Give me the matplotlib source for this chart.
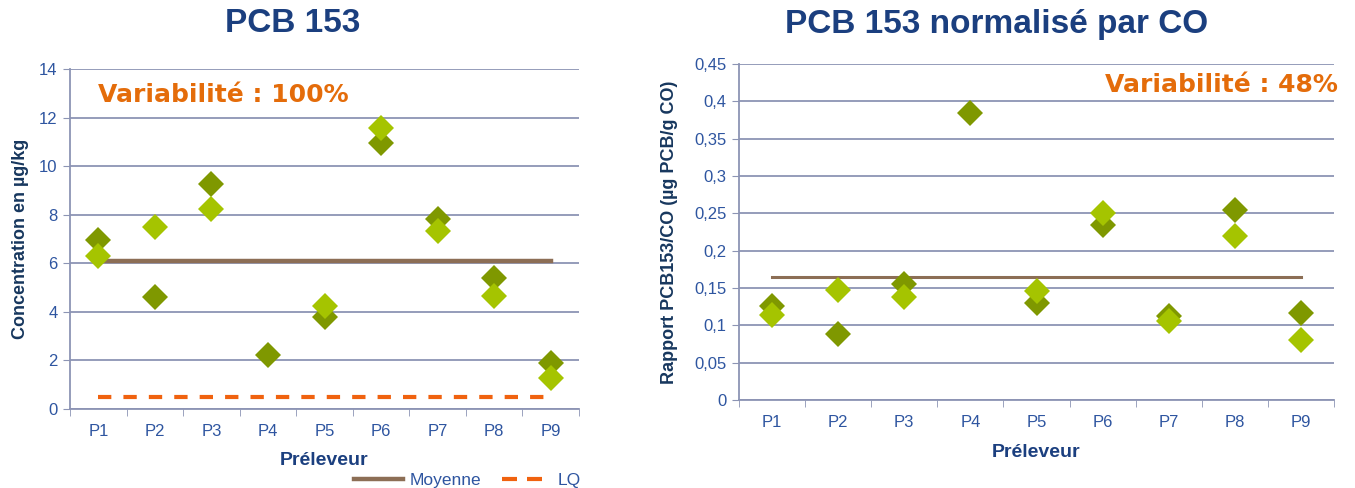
import numpy as np
import matplotlib.pyplot as plt
from matplotlib.lines import Line2D

# Data
preleveurs = ["P1", "P2", "P3", "P4", "P5", "P6", "P7", "P8", "P9"]

# PCB 153 concentration (µg/kg), two replicates per sampler
conc_dark = [6.95, 4.6, 9.25, 2.22, 3.8, 10.94, 7.81, 5.41, 1.88]
conc_light = [6.3, 7.5, 8.22, np.nan, 4.24, 11.58, 7.33, 4.66, 1.26]
conc_moyenne = 6.1
conc_lq = 0.48

# PCB 153 normalised by organic carbon
norm_dark = [0.126, 0.089, 0.155, 0.385, 0.1295, 0.235, 0.113, 0.255, 0.116]
norm_light = [0.114, 0.148, 0.1375, np.nan, 0.146, 0.251, 0.106, 0.2196, 0.080]
norm_moyenne = 0.165

var_left = "Variabilité : 100%"
var_right = "Variabilité : 48%"

# Colours
dark_green = "#7F9800"
light_green = "#A5C400"
brown = "#8C6E55"
orange_lq = "#F0620F"
orange_txt = "#E46C0A"
navy = "#1B3F7F"
label_navy = "#17375E"
tick_blue = "#2E55A0"
grid_col = "#8C94B4"

plt.rcParams["font.family"] = ["Liberation Sans", "DejaVu Sans"]

fig = plt.figure(figsize=(13.55, 4.88), dpi=100)
ax1 = fig.add_axes([0.0517, 0.1619, 0.3756, 0.6967])
ax2 = fig.add_axes([0.5454, 0.1803, 0.4391, 0.6885])

x = np.arange(1, len(preleveurs) + 1)


def style_axes(ax, ymax, ystep, fmt):
    ax.set_xlim(0.5, len(preleveurs) + 0.5)
    ax.set_ylim(0, ymax)
    yt = np.arange(0, ymax + ystep / 2, ystep)
    ax.set_yticks(yt)
    ax.set_yticklabels([fmt(v) for v in yt])
    ax.set_xticks(x)
    ax.set_xticklabels(preleveurs)
    ax.set_xticks(np.arange(0.5, len(preleveurs) + 1), minor=True)
    ax.tick_params(axis="x", which="major", length=0, pad=11,
                   labelsize=12, colors=tick_blue)
    ax.tick_params(axis="x", which="minor", length=5, color=grid_col)
    ax.tick_params(axis="y", length=5, color=grid_col, labelsize=12,
                   labelcolor=tick_blue, pad=4)
    ax.grid(axis="y", color=grid_col, linewidth=1.3)
    ax.set_axisbelow(True)
    for s in ["top", "right"]:
        ax.spines[s].set_visible(False)
    for s in ["left", "bottom"]:
        ax.spines[s].set_color(grid_col)
        ax.spines[s].set_linewidth(1.3)


# Left chart: raw concentration
style_axes(ax1, 14, 2, lambda v: f"{v:.0f}")
ax1.plot([x[0], x[-1]], [conc_moyenne, conc_moyenne], color=brown, lw=3.2,
         zorder=2)
ax1.plot([x[0], x[-1]], [conc_lq, conc_lq], color=orange_lq, lw=3,
         dashes=(3.2, 2.9), zorder=2)
ax1.plot(x, conc_dark, "D", color=dark_green, ms=13.5, mew=0, zorder=3)
ax1.plot(x, conc_light, "D", color=light_green, ms=13.5, mew=0, zorder=4)
fig.text(292.5 / 1355, 1 - 24 / 488, "PCB 153", fontsize=24,
         fontweight="bold", color=navy, ha="center", va="center")
ax1.set_ylabel("Concentration en µg/kg", fontsize=13, fontweight="bold",
               color=label_navy)
ax1.yaxis.set_label_coords(-0.080, 0.5)
ax1.set_xlabel("Préleveur", fontsize=14, fontweight="bold", color=navy)
ax1.xaxis.set_label_coords(0.5, -0.126)
ax1.text(0.055, 0.924, var_left, transform=ax1.transAxes, fontsize=18,
         fontweight="bold", color=orange_txt, family=["DejaVu Sans"],
         va="center", ha="left")

handles = [Line2D([], [], color=brown, lw=3.2),
           Line2D([], [], color=orange_lq, lw=3, dashes=(3.6, 2.4))]
fig.legend(handles, ["Moyenne", "LQ"], loc="center",
           bbox_to_anchor=(0.345, 0.016), ncol=2, frameon=False,
           fontsize=12.5, labelcolor=tick_blue, handlelength=2.8,
           handletextpad=0.4, columnspacing=1.2)

# Right chart: normalised by CO
style_axes(ax2, 0.45, 0.05,
           lambda v: "0" if v == 0 else f"{v:g}".replace(".", ","))
ax2.plot([x[0], x[-1]], [norm_moyenne, norm_moyenne], color=brown, lw=2.2,
         zorder=2)
ax2.plot(x, norm_dark, "D", color=dark_green, ms=13.5, mew=0, zorder=3)
ax2.plot(x, norm_light, "D", color=light_green, ms=13.5, mew=0, zorder=4)
fig.text(997 / 1355, 1 - 25 / 488, "PCB 153 normalisé par CO", fontsize=24,
         fontweight="bold", color=navy, ha="center", va="center")
ax2.set_ylabel("Rapport PCB153/CO (µg PCB/g CO)", fontsize=13,
               fontweight="bold", color=label_navy)
ax2.yaxis.set_label_coords(-0.1025, 0.5)
ax2.set_xlabel("Préleveur", fontsize=14, fontweight="bold", color=navy)
ax2.xaxis.set_label_coords(0.5, -0.131)
ax2.text(1.0067, 0.9375, var_right, transform=ax2.transAxes, fontsize=18,
         fontweight="bold", color=orange_txt, family=["DejaVu Sans"],
         va="center", ha="right")

fig.savefig("out.png", dpi=100)
